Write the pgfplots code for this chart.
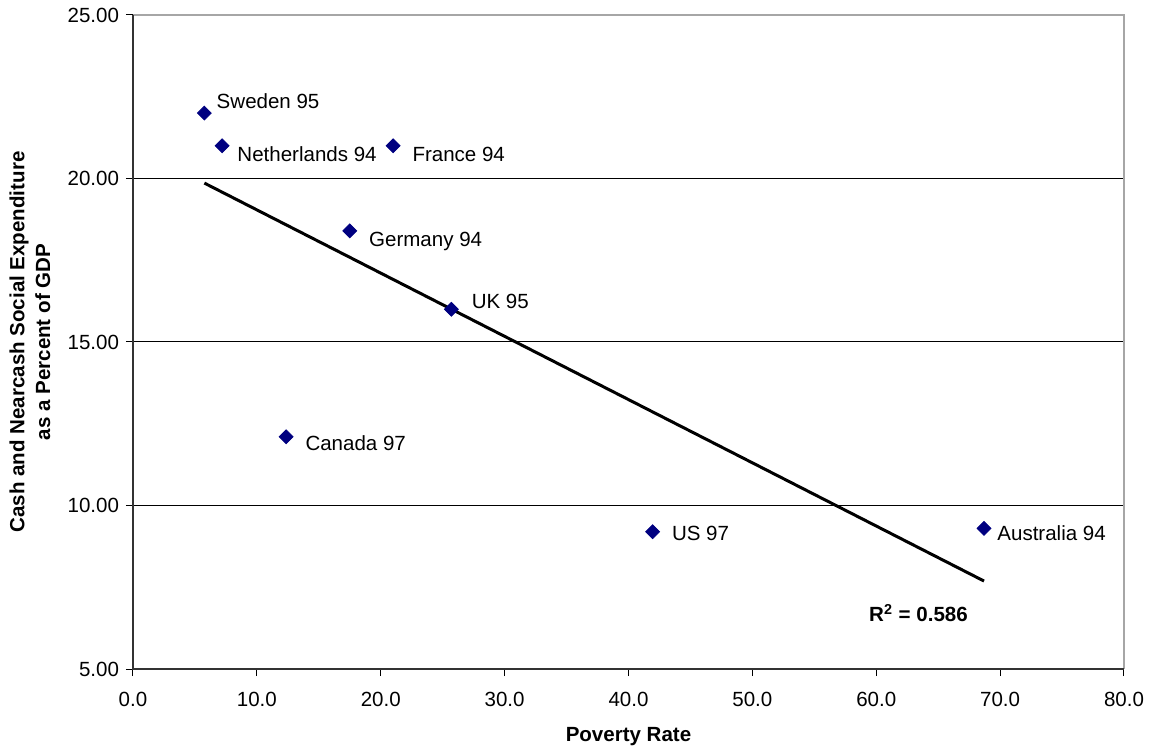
\documentclass[border=0pt]{standalone}
\usepackage{pgfplots}
\pgfplotsset{compat=1.18}
\usepackage{pgfplotstable}
\usepackage{fontspec}
\setmainfont{Liberation Sans}
\definecolor{navy}{HTML}{000080}
\pgfplotstableread{
x y dx dy label
5.76 22.0 6 6 {Sweden 95}
7.19 21.0 7.5 -4 {Netherlands 94}
21.0 21.0 9.5 -4 {France 94}
17.5 18.4 9.5 -4 {Germany 94}
25.7 16.0 10 4 {UK 95}
12.36 12.1 9.5 -3 {Canada 97}
41.95 9.2 9.5 -0.5 {US 97}
68.7 9.3 6.5 -2.5 {Australia 94}
}\points
\begin{document}
\begin{tikzpicture}
\useasboundingbox (-66.5bp,-39.5bp) rectangle (509bp,334.5bp);
\begin{axis}[
  at={(0,0)}, anchor=south west,
  scale only axis, width=495.5bp, height=327bp,
  xmin=0, xmax=80, ymin=5, ymax=25,
  xtick={0,10,...,80}, ytick={5,10,...,25},
  tick align=outside, tick pos=left,
  major tick length=3.5bp,
  tick style={black, line width=0.5bp},
  axis line style={draw=none},
  ymajorgrids, major grid style={black, line width=0.5bp},
  font=\fontsize{10.3}{12}\selectfont,
  ticklabel style={font=\fontsize{10.3}{12}\selectfont},
  xticklabel style={yshift=-4.5bp, /pgf/number format/.cd, fixed, fixed zerofill, precision=1, assume math mode=true},
  yticklabel style={/pgf/number format/.cd, fixed, fixed zerofill, precision=2, assume math mode=true},
  xlabel={Poverty Rate},
  xlabel style={font=\bfseries\fontsize{10.3}{12}\selectfont, at={(axis description cs:0.5,-0.104)}, anchor=center},
  ylabel={Cash and Nearcash Social Expenditure\\as a Percent of GDP},
  ylabel style={font=\bfseries\fontsize{10.3}{13}\selectfont, align=center, at={(axis description cs:-0.104,0.5)}, anchor=center},
  clip=false,
]
\draw[gray!70, line width=0.6bp] (axis cs:0,25) -- (axis cs:80,25) -- (axis cs:80,5);
\draw[black!80, line width=0.8bp] (axis cs:0,25) -- (axis cs:0,5) -- (axis cs:80,5);
\addplot[black, line width=1.5bp] coordinates {(5.76,19.86) (68.7,7.69)};
\addplot[only marks, mark=square*, mark size=2.45bp, mark options={rotate=45, fill=navy, draw=navy},
  point meta=explicit symbolic,
  visualization depends on={\thisrow{dx} \as \dx},
  visualization depends on={\thisrow{dy} \as \dy},
  nodes near coords,
  nodes near coords style={anchor=base west, inner sep=0pt, font=\fontsize{10.3}{12}\selectfont, xshift=\dx bp, yshift=\dy bp - 3.7bp, text=black},
] table[x=x, y=y, meta=label] {\points};
\node[anchor=west, inner sep=0pt, font=\bfseries\fontsize{10.3}{12}\selectfont] at (axis cs:59.4,6.71) {R\textsuperscript{2} = 0.586};
\end{axis}
\end{tikzpicture}
\end{document}
